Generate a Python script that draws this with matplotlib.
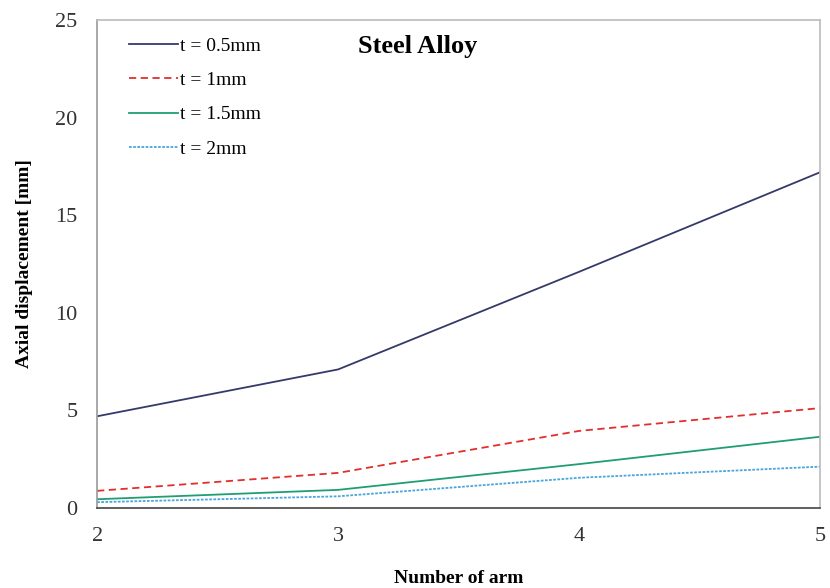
import matplotlib.pyplot as plt

plt.rcParams['font.family'] = ['Liberation Serif', 'DejaVu Serif']

arms = [2, 3, 4, 5]
labels = ['t = 0.5mm', 't = 1mm', 't = 1.5mm', 't = 2mm']
disp_05 = [4.7, 7.1, 12.1, 17.2]
disp_10 = [0.88, 1.8, 3.95, 5.12]
disp_15 = [0.45, 0.93, 2.25, 3.65]
disp_20 = [0.3, 0.6, 1.55, 2.12]

colors = ['#343a6a', '#e0302c', '#1f9e72', '#48a6dc']
styles = ['-', (0, (4, 2.5)), '-', (0, (1.5, 0.8))]

fig = plt.figure(figsize=(8.3, 5.88), dpi=100)
ax = fig.add_axes([0.117, 0.136, 0.871, 0.830])

for y, lab, c, ls in zip([disp_05, disp_10, disp_15, disp_20], labels, colors, styles):
    ax.plot(arms, y, color=c, linestyle=ls, lw=1.3, label=lab)

ax.set_xlim(2, 5)
ax.set_ylim(0, 25)
ax.set_xticks(arms)
ax.set_yticks(range(0, 26, 5))
ax.tick_params(length=0, labelsize=16, colors='#333333')
ax.tick_params(axis='y', pad=14)
ax.tick_params(axis='x', pad=14)
for s in ax.spines.values():
    s.set_color('#bbbbbb')
    s.set_linewidth(1.2)
ax.spines['bottom'].set_color('#444444')
ax.spines['left'].set_color('#999999')

ax.set_xlabel('Number of arm', fontsize=14, fontweight='bold', labelpad=17)
ax.set_ylabel('Axial displacement [mm]', fontsize=14, fontweight='bold', labelpad=16)

ax.text(0.443, 0.945, 'Steel Alloy', transform=ax.transAxes, fontsize=19,
        fontweight='bold', ha='center', va='center')

ax.legend(loc='upper left', frameon=False, fontsize=14, handlelength=2.5,
          handletextpad=0.1, labelspacing=0.85, borderaxespad=0.5,
          bbox_to_anchor=(0.02, 1.0))

fig.savefig('out.png', dpi=100)
